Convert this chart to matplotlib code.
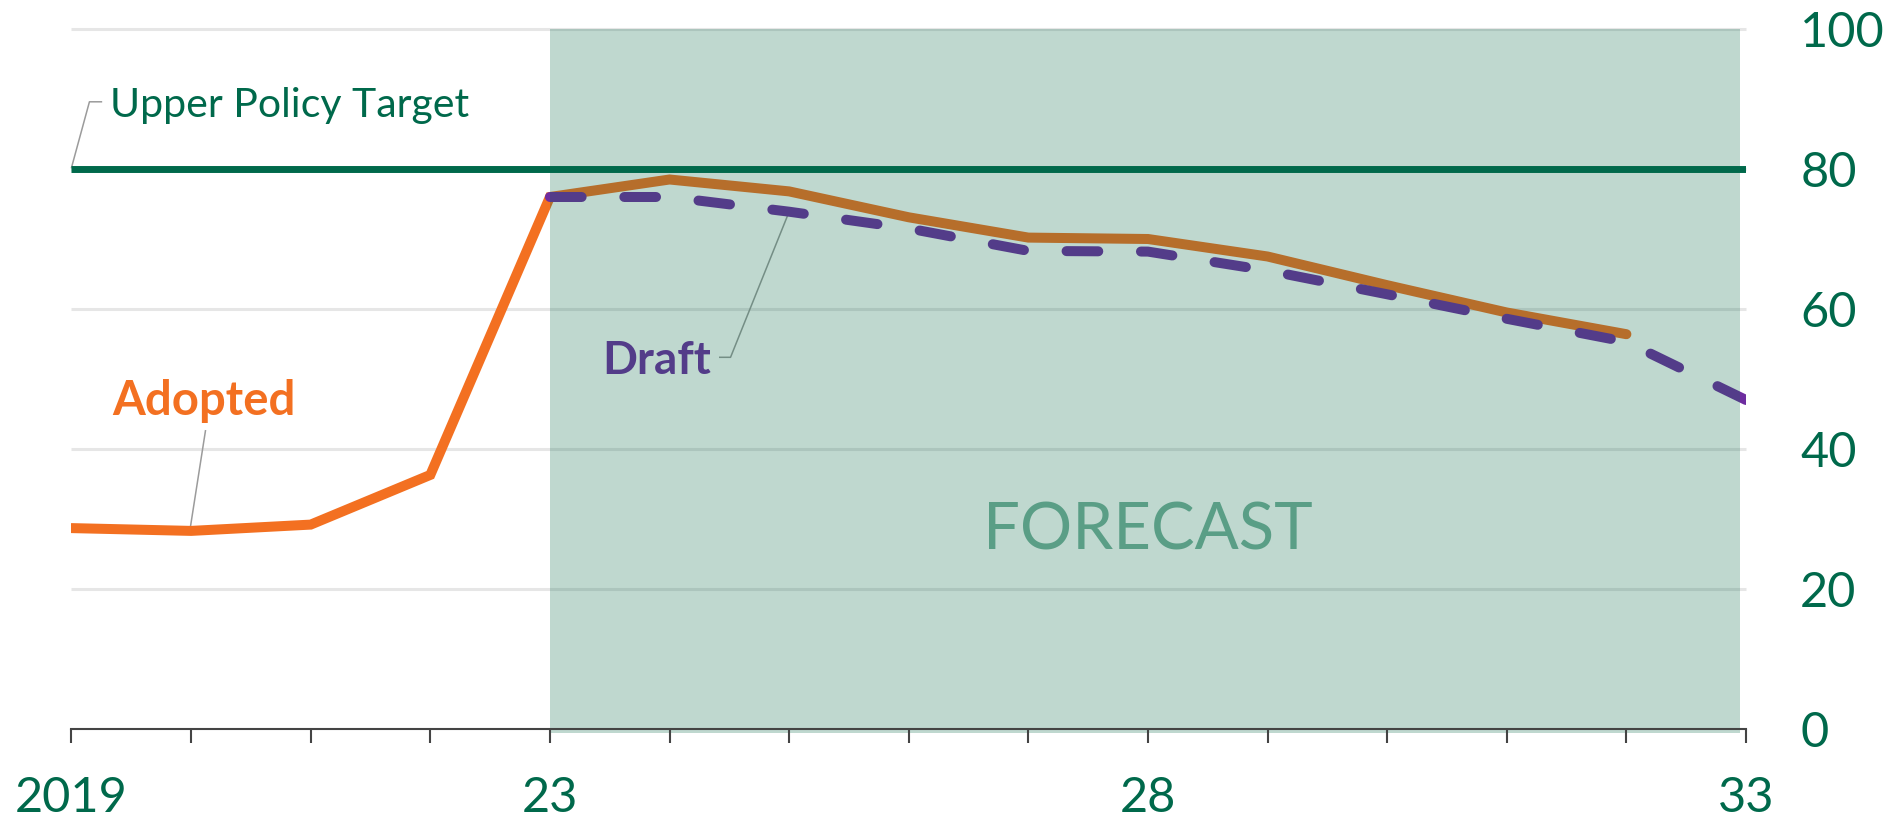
import matplotlib
matplotlib.use("Agg")
import matplotlib.pyplot as plt

plt.rcParams['font.family'] = ['Lato', 'DejaVu Sans']

# ---- data -------------------------------------------------------------
adopted_years = [2019, 2020, 2021, 2022, 2023, 2024, 2025, 2026, 2027, 2028,
                 2029, 2030, 2031, 2032]
adopted_values = [28.7, 28.3, 29.2, 36.3, 76.0, 78.5, 76.8, 73.1, 70.2, 70.0,
                  67.5, 63.4, 59.5, 56.4]

draft_years = [2023, 2024, 2025, 2026, 2027, 2028, 2029, 2030, 2031, 2032, 2033]
draft_values = [76.0, 76.0, 73.9, 71.5, 68.3, 68.2, 65.5, 62.1, 58.6, 55.3, 47.0]

policy_target = 80
forecast_start, forecast_end = 2023, 2033

tick_years = list(range(2019, 2034))
tick_names = {2019: "2019", 2023: "23", 2028: "28", 2033: "33"}
y_ticks = [0, 20, 40, 60, 80, 100]

# ---- styling ------------------------------------------------------------
GREEN = '#00694b'
ORANGE = '#f37021'
PURPLE = '#6e2da0'
SHADE = '#086948'
GRID = '#e6e6e6'
LEADER = '#9b9b9b'
FORECAST_TXT = '#5a9e86'

fig = plt.figure(figsize=(19.01, 8.21), dpi=100)
ax = fig.add_axes([0.03761, 0.11206, 0.88085, 0.85262])
ax.set_xlim(2019, 2033)
ax.set_ylim(0, 100)

# horizontal grid
for yv in y_ticks[1:]:
    ax.hlines(yv, 2019, 2033, color=GRID, lw=2.2, zorder=1, clip_on=False)

# series (sit beneath the translucent forecast band)
ax.plot(adopted_years, adopted_values, color=ORANGE, lw=7.2,
        solid_capstyle='round', solid_joinstyle='miter', zorder=1.6)
ax.plot(draft_years, draft_values, color=PURPLE, lw=7.2,
        linestyle=(0, (3.17, 4.27)), dash_capstyle='round', zorder=1.7)

# label leaders
ax.plot([2019.0, 2019.15, 2019.25], [80.2, 89.6, 89.6], color=LEADER, lw=1.1,
        zorder=1.5, clip_on=False)
ax.plot([2020.12, 2019.99], [42.6, 28.4], color=LEADER, lw=1.1, zorder=1.5)
ax.plot([2024.42, 2024.51, 2025.0], [53.1, 53.1, 73.9], color=LEADER, lw=1.1,
        zorder=1.5)

ax.text(2019.34, 44.9, "Adopted", color=ORANGE, fontsize=34, fontweight='bold',
        ha='left', va='baseline', zorder=1.8)
ax.text(2024.35, 50.7, "Draft", color=PURPLE, fontsize=33, fontweight='bold',
        ha='right', va='baseline', zorder=1.8)

# forecast band
ax.fill_between([forecast_start, forecast_end - 0.05], -0.6, 100, color=SHADE,
                alpha=0.26, lw=0, zorder=2.0, clip_on=False)
ax.text(2028, 25.6, "FORECAST", color=FORECAST_TXT, fontsize=47,
        ha='center', va='baseline', zorder=3)

# policy target line
ax.plot([2019, 2033], [policy_target, policy_target], color=GREEN, lw=5,
        solid_capstyle='butt', zorder=3)
ax.text(2019.32, 87.4, "Upper Policy Target", color=GREEN, fontsize=29.5,
        ha='left', va='baseline', zorder=3)

# axes
for side in ['top', 'left', 'right']:
    ax.spines[side].set_visible(False)
ax.spines['bottom'].set_color('#444444')
ax.spines['bottom'].set_linewidth(1.5)
ax.spines['bottom'].set_zorder(2.5)
ax.set_axisbelow(False)

ax.set_xticks(tick_years)
ax.set_xticklabels([tick_names.get(y, "") for y in tick_years])
ax.tick_params(axis='x', direction='out', length=10, width=1.5, color='#444444',
               pad=24, labelsize=35, labelcolor=GREEN)

ax.yaxis.tick_right()
ax.set_yticks(y_ticks)
ax.set_yticklabels([str(v) for v in y_ticks])
ax.tick_params(axis='y', length=0, pad=39, labelsize=35, labelcolor=GREEN)

fig.savefig("out.png", dpi=100)
